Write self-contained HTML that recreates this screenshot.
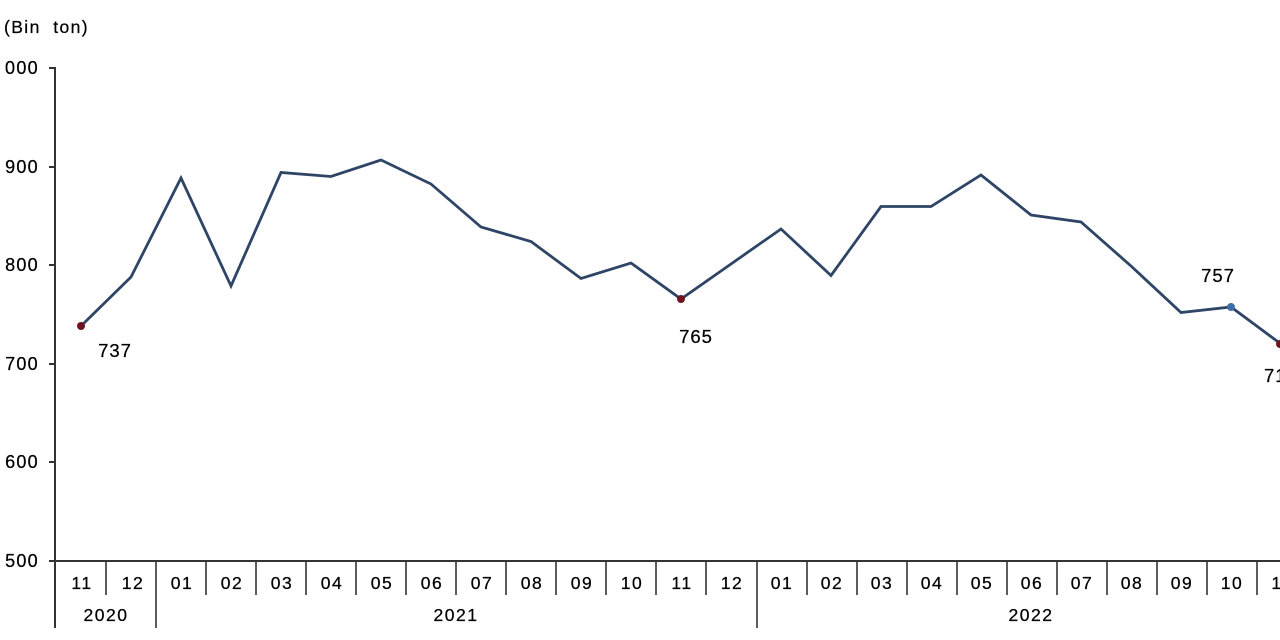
<!DOCTYPE html>
<html>
<head>
<meta charset="utf-8">
<style>
  html,body{margin:0;padding:0;background:#fff;}
  body{width:1280px;height:640px;overflow:hidden;}
  svg{display:block;}
  text{font-family:"Liberation Sans", Arial, sans-serif;fill:#000;stroke:#000;stroke-width:0.25;}
</style>
</head>
<body>
<svg width="1280" height="640" viewBox="0 0 1280 640" xmlns="http://www.w3.org/2000/svg">
  <defs>
    <clipPath id="lclip"><rect x="3" y="0" width="1277" height="640"/></clipPath>
  </defs>
  <rect width="1280" height="640" fill="#fff"/>

  <!-- unit label -->
  <text x="4" y="33" font-size="17.5" letter-spacing="1.4" style="white-space:pre">(Bin  ton)</text>

  <!-- y axis labels -->
  <g font-size="18" letter-spacing="1.3" text-anchor="end" clip-path="url(#lclip)">
    <text x="39" y="74">1000</text>
    <text x="39" y="173">900</text>
    <text x="39" y="271">800</text>
    <text x="39" y="370">700</text>
    <text x="39" y="468">600</text>
    <text x="39" y="567">500</text>
  </g>

  <!-- axes -->
  <g stroke="#333" stroke-width="2" fill="none">
    <line x1="55" y1="67" x2="55" y2="628"/>
    <line x1="49" y1="561" x2="1280" y2="561"/>
    <line x1="49" y1="68" x2="55" y2="68"/>
    <line x1="49" y1="167" x2="55" y2="167"/>
    <line x1="49" y1="265" x2="55" y2="265"/>
    <line x1="49" y1="364" x2="55" y2="364"/>
    <line x1="49" y1="462" x2="55" y2="462"/>
  </g>
  <g stroke="#333" stroke-width="1.6">
    <line x1="106" y1="561" x2="106" y2="595"/>
    <line x1="156" y1="561" x2="156" y2="628"/>
    <line x1="206" y1="561" x2="206" y2="595"/>
    <line x1="256" y1="561" x2="256" y2="595"/>
    <line x1="306" y1="561" x2="306" y2="595"/>
    <line x1="356" y1="561" x2="356" y2="595"/>
    <line x1="406" y1="561" x2="406" y2="595"/>
    <line x1="456" y1="561" x2="456" y2="595"/>
    <line x1="506" y1="561" x2="506" y2="595"/>
    <line x1="556" y1="561" x2="556" y2="595"/>
    <line x1="606" y1="561" x2="606" y2="595"/>
    <line x1="656" y1="561" x2="656" y2="595"/>
    <line x1="706" y1="561" x2="706" y2="595"/>
    <line x1="757" y1="561" x2="757" y2="628"/>
    <line x1="807" y1="561" x2="807" y2="595"/>
    <line x1="857" y1="561" x2="857" y2="595"/>
    <line x1="907" y1="561" x2="907" y2="595"/>
    <line x1="957" y1="561" x2="957" y2="595"/>
    <line x1="1007" y1="561" x2="1007" y2="595"/>
    <line x1="1057" y1="561" x2="1057" y2="595"/>
    <line x1="1107" y1="561" x2="1107" y2="595"/>
    <line x1="1157" y1="561" x2="1157" y2="595"/>
    <line x1="1207" y1="561" x2="1207" y2="595"/>
    <line x1="1257" y1="561" x2="1257" y2="595"/>
  </g>

  <!-- x labels -->
  <g font-size="17.5" letter-spacing="1.5" text-anchor="middle">
    <text x="82" y="589">11</text>
    <text x="133" y="589">12</text>
    <text x="182" y="589">01</text>
    <text x="232" y="589">02</text>
    <text x="282" y="589">03</text>
    <text x="332" y="589">04</text>
    <text x="382" y="589">05</text>
    <text x="432" y="589">06</text>
    <text x="482" y="589">07</text>
    <text x="532" y="589">08</text>
    <text x="582" y="589">09</text>
    <text x="632" y="589">10</text>
    <text x="682" y="589">11</text>
    <text x="732" y="589">12</text>
    <text x="782" y="589">01</text>
    <text x="832" y="589">02</text>
    <text x="882" y="589">03</text>
    <text x="932" y="589">04</text>
    <text x="982" y="589">05</text>
    <text x="1032" y="589">06</text>
    <text x="1082" y="589">07</text>
    <text x="1132" y="589">08</text>
    <text x="1182" y="589">09</text>
    <text x="1232" y="589">10</text>
    <text x="1282" y="589">11</text>
    <text x="106" y="621">2020</text>
    <text x="456" y="621">2021</text>
    <text x="1031" y="621">2022</text>
  </g>

  <!-- series -->
  <polyline fill="none" stroke="#2f4566" stroke-width="2.8" stroke-linejoin="miter"
    points="81,326 131,277 181,178 231,286 281,172.5 331,176.5 381,160 431,184 481,227 531,241.5 581,278.5 631,263 681,299 731,264 781,229 831,275.5 881,206.5 931,206.5 981,175 1031,215 1081,222 1131,266 1181,312.5 1231,307 1281,344"/>

  <!-- markers -->
  <circle cx="81" cy="326" r="4" fill="#6e1420"/>
  <circle cx="681" cy="299" r="4" fill="#6e1420"/>
  <circle cx="1231" cy="307" r="4" fill="#3d6fa6"/>
  <circle cx="1280" cy="344" r="4" fill="#6e1420"/>

  <!-- data labels -->
  <g font-size="18.5" letter-spacing="1" text-anchor="middle">
    <text x="115" y="357">737</text>
    <text x="696" y="343">765</text>
    <text x="1218" y="282">757</text>
  </g>
  <text x="1264" y="382" font-size="18.5" letter-spacing="1">719</text>
</svg>
</body>
</html>
